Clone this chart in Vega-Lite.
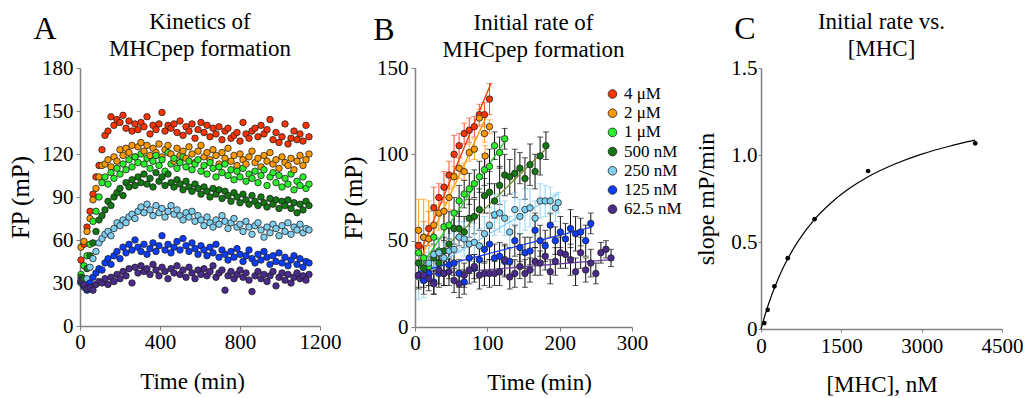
{
"$schema": "https://vega.github.io/schema/vega-lite/v6.json",
"padding": {"left": 8, "top": 11, "right": 0, "bottom": 0},
"spacing": 0,
"bounds": "full",
"datasets": {
"kin": [
{"t":5,"a":46,"b":55,"c":36,"d":34,"e":30,"f":31,"g":32},
{"t":20,"a":57,"b":59,"c":42,"d":33,"e":27,"f":28,"g":29},
{"t":35,"a":69,"b":66,"c":49,"d":40,"e":33,"f":25,"g":26},
{"t":50,"a":80,"b":75,"c":57,"d":49,"e":41,"f":30,"g":27},
{"t":65,"a":92,"b":88,"c":73,"d":58,"e":47,"f":34,"g":25},
{"t":80,"a":104,"b":96,"c":80,"d":66,"e":52,"f":37,"g":29},
{"t":95,"a":112,"b":104,"c":90,"d":74,"e":58,"f":40,"g":31},
{"t":110,"a":123,"b":112,"c":100,"d":77,"e":61,"f":39,"g":30},
{"t":125,"a":133,"b":113,"c":104,"d":81,"e":64,"f":44,"g":33},
{"t":140,"a":136,"b":116,"c":99,"d":87,"e":66,"f":47,"g":29},
{"t":155,"a":146,"b":111,"c":107,"d":84,"e":63,"f":43,"g":34},
{"t":170,"a":140,"b":118,"c":103,"d":90,"e":68,"f":49,"g":31},
{"t":185,"a":144,"b":115,"c":110,"d":93,"e":72,"f":52,"g":36},
{"t":200,"a":142,"b":123,"c":106,"d":96,"e":70,"f":47,"g":33},
{"t":215,"a":147,"b":119,"c":113,"d":91,"e":74,"f":55,"g":38},
{"t":230,"a":138,"b":124,"c":109,"d":100,"e":72,"f":51,"g":35},
{"t":245,"a":143,"b":121,"c":116,"d":97,"e":76,"f":57,"g":40},
{"t":260,"a":136,"b":126,"c":111,"d":102,"e":78,"f":53,"g":30},
{"t":275,"a":141,"b":118,"c":118,"d":98,"e":75,"f":60,"g":41},
{"t":290,"a":137,"b":125,"c":114,"d":104,"e":80,"f":55,"g":37},
{"t":305,"a":142,"b":128,"c":120,"d":100,"e":83,"f":52,"g":42},
{"t":320,"a":139,"b":122,"c":113,"d":106,"e":79,"f":57,"g":38},
{"t":335,"a":146,"b":126,"c":117,"d":99,"e":85,"f":50,"g":40},
{"t":350,"a":134,"b":119,"c":110,"d":103,"e":81,"f":54,"g":36},
{"t":365,"a":140,"b":124,"c":115,"d":97,"e":77,"f":58,"g":43},
{"t":380,"a":137,"b":121,"c":119,"d":107,"e":84,"f":52,"g":39},
{"t":395,"a":141,"b":127,"c":112,"d":101,"e":79,"f":56,"g":35},
{"t":410,"a":149,"b":118,"c":116,"d":104,"e":82,"f":63,"g":41},
{"t":425,"a":136,"b":123,"c":108,"d":98,"e":76,"f":53,"g":38},
{"t":440,"a":140,"b":126,"c":121,"d":106,"e":80,"f":57,"g":33},
{"t":455,"a":138,"b":120,"c":113,"d":100,"e":84,"f":51,"g":40},
{"t":470,"a":141,"b":115,"c":117,"d":97,"e":78,"f":55,"g":37},
{"t":485,"a":135,"b":124,"c":110,"d":102,"e":81,"f":59,"g":42},
{"t":500,"a":143,"b":119,"c":114,"d":99,"e":77,"f":53,"g":36},
{"t":515,"a":133,"b":122,"c":118,"d":95,"e":74,"f":61,"g":39},
{"t":530,"a":139,"b":117,"c":111,"d":101,"e":79,"f":56,"g":34},
{"t":545,"a":136,"b":125,"c":115,"d":97,"e":76,"f":52,"g":41},
{"t":560,"a":141,"b":120,"c":109,"d":94,"e":80,"f":58,"g":37},
{"t":575,"a":131,"b":114,"c":113,"d":99,"e":73,"f":54,"g":33},
{"t":590,"a":137,"b":122,"c":116,"d":96,"e":77,"f":50,"g":39},
{"t":605,"a":142,"b":126,"c":108,"d":92,"e":74,"f":56,"g":36},
{"t":620,"a":135,"b":118,"c":112,"d":97,"e":70,"f":53,"g":40},
{"t":635,"a":140,"b":121,"c":106,"d":94,"e":76,"f":49,"g":35},
{"t":650,"a":132,"b":116,"c":114,"d":90,"e":72,"f":55,"g":38},
{"t":665,"a":138,"b":123,"c":110,"d":96,"e":69,"f":51,"g":42},
{"t":680,"a":134,"b":119,"c":104,"d":92,"e":74,"f":57,"g":34},
{"t":695,"a":139,"b":113,"c":111,"d":95,"e":71,"f":48,"g":37},
{"t":710,"a":130,"b":121,"c":107,"d":89,"e":77,"f":53,"g":39},
{"t":725,"a":136,"b":117,"c":113,"d":94,"e":73,"f":50,"g":25},
{"t":740,"a":138,"b":124,"c":105,"d":91,"e":68,"f":46,"g":35},
{"t":755,"a":131,"b":115,"c":109,"d":87,"e":72,"f":52,"g":38},
{"t":770,"a":133,"b":119,"c":102,"d":93,"e":75,"f":48,"g":33},
{"t":785,"a":135,"b":112,"c":108,"d":90,"e":69,"f":54,"g":36},
{"t":800,"a":129,"b":120,"c":104,"d":86,"e":71,"f":50,"g":39},
{"t":815,"a":142,"b":116,"c":110,"d":92,"e":66,"f":45,"g":34},
{"t":830,"a":134,"b":113,"c":101,"d":88,"e":73,"f":49,"g":37},
{"t":845,"a":131,"b":118,"c":106,"d":85,"e":69,"f":53,"g":32},
{"t":860,"a":136,"b":122,"c":103,"d":91,"e":64,"f":47,"g":24},
{"t":875,"a":138,"b":114,"c":108,"d":87,"e":70,"f":44,"g":35},
{"t":890,"a":132,"b":117,"c":100,"d":84,"e":72,"f":50,"g":38},
{"t":905,"a":140,"b":111,"c":105,"d":90,"e":67,"f":46,"g":33},
{"t":920,"a":134,"b":119,"c":109,"d":86,"e":62,"f":52,"g":36},
{"t":935,"a":137,"b":115,"c":98,"d":83,"e":69,"f":48,"g":31},
{"t":950,"a":144,"b":121,"c":104,"d":89,"e":65,"f":43,"g":35},
{"t":965,"a":130,"b":113,"c":107,"d":85,"e":71,"f":49,"g":38},
{"t":980,"a":135,"b":116,"c":100,"d":88,"e":68,"f":45,"g":28},
{"t":995,"a":128,"b":110,"c":105,"d":82,"e":63,"f":51,"g":34},
{"t":1010,"a":132,"b":118,"c":97,"d":87,"e":70,"f":44,"g":37},
{"t":1025,"a":141,"b":114,"c":103,"d":84,"e":66,"f":48,"g":32},
{"t":1040,"a":127,"b":112,"c":99,"d":88,"e":72,"f":42,"g":36},
{"t":1055,"a":131,"b":117,"c":106,"d":82,"e":64,"f":46,"g":30},
{"t":1070,"a":136,"b":109,"c":95,"d":86,"e":69,"f":49,"g":34},
{"t":1085,"a":130,"b":115,"c":101,"d":79,"e":67,"f":43,"g":37},
{"t":1100,"a":134,"b":119,"c":98,"d":85,"e":71,"f":47,"g":33},
{"t":1115,"a":129,"b":112,"c":104,"d":81,"e":65,"f":41,"g":35},
{"t":1130,"a":140,"b":116,"c":96,"d":87,"e":68,"f":45,"g":32},
{"t":1145,"a":132,"b":120,"c":99,"d":84,"e":67,"f":44,"g":36}
],
"rate": [
{"s":"4 μM","t":5,"fp":47,"e":8},{"s":"4 μM","t":12,"fp":52,"e":9},{"s":"4 μM","t":19,"fp":57,"e":10},{"s":"4 μM","t":26,"fp":69,"e":12},{"s":"4 μM","t":33,"fp":75,"e":8},{"s":"4 μM","t":40,"fp":81,"e":9},{"s":"4 μM","t":47,"fp":88,"e":8},{"s":"4 μM","t":54,"fp":100,"e":11},{"s":"4 μM","t":61,"fp":105,"e":7},{"s":"4 μM","t":68,"fp":112,"e":6},{"s":"4 μM","t":75,"fp":114,"e":7},{"s":"4 μM","t":82,"fp":116,"e":6},{"s":"4 μM","t":89,"fp":123,"e":6},{"s":"4 μM","t":96,"fp":123,"e":7},{"s":"4 μM","t":103,"fp":132,"e":9},
{"s":"2 μM","t":5,"fp":56,"e":18},{"s":"2 μM","t":12,"fp":52,"e":22},{"s":"2 μM","t":19,"fp":51,"e":22},{"s":"2 μM","t":26,"fp":59,"e":12},{"s":"2 μM","t":33,"fp":66,"e":10},{"s":"2 μM","t":40,"fp":67,"e":8},{"s":"2 μM","t":47,"fp":75,"e":7},{"s":"2 μM","t":54,"fp":87,"e":6},{"s":"2 μM","t":61,"fp":92,"e":6},{"s":"2 μM","t":68,"fp":90,"e":5},{"s":"2 μM","t":75,"fp":101,"e":5},{"s":"2 μM","t":82,"fp":103,"e":6},{"s":"2 μM","t":89,"fp":121,"e":5},{"s":"2 μM","t":96,"fp":112,"e":5},{"s":"2 μM","t":97,"fp":99,"e":6},{"s":"2 μM","t":103,"fp":116,"e":4},
{"s":"1 μM","t":5,"fp":43,"e":6},{"s":"1 μM","t":12,"fp":40,"e":7},{"s":"1 μM","t":19,"fp":35,"e":6},{"s":"1 μM","t":26,"fp":52,"e":8},{"s":"1 μM","t":33,"fp":44,"e":7},{"s":"1 μM","t":40,"fp":58,"e":8},{"s":"1 μM","t":47,"fp":59,"e":8},{"s":"1 μM","t":54,"fp":66,"e":9},{"s":"1 μM","t":61,"fp":73,"e":9},{"s":"1 μM","t":68,"fp":77,"e":8},{"s":"1 μM","t":75,"fp":80,"e":9},{"s":"1 μM","t":82,"fp":83,"e":8},{"s":"1 μM","t":89,"fp":87,"e":9},{"s":"1 μM","t":96,"fp":91,"e":9},{"s":"1 μM","t":103,"fp":93,"e":10},{"s":"1 μM","t":110,"fp":105,"e":8},{"s":"1 μM","t":117,"fp":101,"e":9},{"s":"1 μM","t":124,"fp":109,"e":6},
{"s":"500 nM","t":5,"fp":37,"e":6},{"s":"500 nM","t":12,"fp":34,"e":6},{"s":"500 nM","t":19,"fp":31,"e":7},{"s":"500 nM","t":26,"fp":40,"e":8},{"s":"500 nM","t":33,"fp":37,"e":7},{"s":"500 nM","t":40,"fp":44,"e":8},{"s":"500 nM","t":47,"fp":48,"e":9},{"s":"500 nM","t":54,"fp":57,"e":9},{"s":"500 nM","t":61,"fp":57,"e":10},{"s":"500 nM","t":68,"fp":55,"e":9},{"s":"500 nM","t":75,"fp":63,"e":11},{"s":"500 nM","t":82,"fp":64,"e":10},{"s":"500 nM","t":89,"fp":68,"e":12},{"s":"500 nM","t":96,"fp":76,"e":10},{"s":"500 nM","t":103,"fp":78,"e":12},{"s":"500 nM","t":110,"fp":73,"e":10},{"s":"500 nM","t":117,"fp":82,"e":11},{"s":"500 nM","t":124,"fp":88,"e":12},{"s":"500 nM","t":131,"fp":87,"e":10},{"s":"500 nM","t":138,"fp":89,"e":14},{"s":"500 nM","t":145,"fp":92,"e":9},{"s":"500 nM","t":152,"fp":86,"e":12},{"s":"500 nM","t":159,"fp":94,"e":12},{"s":"500 nM","t":166,"fp":90,"e":10},{"s":"500 nM","t":173,"fp":99,"e":11},{"s":"500 nM","t":181,"fp":105,"e":8},
{"s":"250 nM","t":5,"fp":29,"e":13},{"s":"250 nM","t":12,"fp":27,"e":10},{"s":"250 nM","t":19,"fp":37,"e":10},{"s":"250 nM","t":26,"fp":42,"e":9},{"s":"250 nM","t":33,"fp":43,"e":9},{"s":"250 nM","t":40,"fp":40,"e":9},{"s":"250 nM","t":47,"fp":44,"e":10},{"s":"250 nM","t":54,"fp":45,"e":10},{"s":"250 nM","t":61,"fp":52,"e":9},{"s":"250 nM","t":68,"fp":51,"e":10},{"s":"250 nM","t":75,"fp":48,"e":10},{"s":"250 nM","t":82,"fp":49,"e":11},{"s":"250 nM","t":89,"fp":47,"e":10},{"s":"250 nM","t":96,"fp":54,"e":10},{"s":"250 nM","t":103,"fp":59,"e":10},{"s":"250 nM","t":110,"fp":65,"e":12},{"s":"250 nM","t":117,"fp":66,"e":11},{"s":"250 nM","t":124,"fp":63,"e":10},{"s":"250 nM","t":131,"fp":55,"e":9},{"s":"250 nM","t":138,"fp":68,"e":10},{"s":"250 nM","t":145,"fp":64,"e":10},{"s":"250 nM","t":152,"fp":68,"e":12},{"s":"250 nM","t":159,"fp":69,"e":11},{"s":"250 nM","t":166,"fp":63,"e":10},{"s":"250 nM","t":173,"fp":73,"e":10},{"s":"250 nM","t":180,"fp":73,"e":9},{"s":"250 nM","t":187,"fp":73,"e":8},{"s":"250 nM","t":194,"fp":69,"e":8},{"s":"250 nM","t":198,"fp":72,"e":6},
{"s":"125 nM","t":5,"fp":30,"e":8},{"s":"125 nM","t":12,"fp":27,"e":8},{"s":"125 nM","t":19,"fp":31,"e":7},{"s":"125 nM","t":26,"fp":26,"e":7},{"s":"125 nM","t":33,"fp":31,"e":8},{"s":"125 nM","t":40,"fp":31,"e":7},{"s":"125 nM","t":47,"fp":36,"e":8},{"s":"125 nM","t":54,"fp":37,"e":7},{"s":"125 nM","t":61,"fp":31,"e":8},{"s":"125 nM","t":68,"fp":26,"e":7},{"s":"125 nM","t":75,"fp":40,"e":9},{"s":"125 nM","t":82,"fp":34,"e":8},{"s":"125 nM","t":89,"fp":39,"e":9},{"s":"125 nM","t":96,"fp":45,"e":8},{"s":"125 nM","t":103,"fp":48,"e":9},{"s":"125 nM","t":110,"fp":40,"e":8},{"s":"125 nM","t":117,"fp":41,"e":8},{"s":"125 nM","t":124,"fp":38,"e":9},{"s":"125 nM","t":131,"fp":38,"e":8},{"s":"125 nM","t":138,"fp":50,"e":9},{"s":"125 nM","t":145,"fp":46,"e":8},{"s":"125 nM","t":152,"fp":43,"e":9},{"s":"125 nM","t":159,"fp":44,"e":8},{"s":"125 nM","t":166,"fp":56,"e":10},{"s":"125 nM","t":173,"fp":50,"e":9},{"s":"125 nM","t":180,"fp":47,"e":9},{"s":"125 nM","t":187,"fp":59,"e":7},{"s":"125 nM","t":194,"fp":50,"e":8},{"s":"125 nM","t":201,"fp":55,"e":9},{"s":"125 nM","t":208,"fp":51,"e":9},{"s":"125 nM","t":215,"fp":57,"e":11},{"s":"125 nM","t":222,"fp":54,"e":10},{"s":"125 nM","t":229,"fp":55,"e":8},{"s":"125 nM","t":236,"fp":50,"e":9},{"s":"125 nM","t":243,"fp":60,"e":6},
{"s":"62.5 nM","t":5,"fp":30,"e":7},{"s":"62.5 nM","t":12,"fp":30,"e":7},{"s":"62.5 nM","t":19,"fp":28,"e":7},{"s":"62.5 nM","t":26,"fp":25,"e":6},{"s":"62.5 nM","t":33,"fp":33,"e":8},{"s":"62.5 nM","t":40,"fp":31,"e":7},{"s":"62.5 nM","t":47,"fp":32,"e":8},{"s":"62.5 nM","t":54,"fp":27,"e":7},{"s":"62.5 nM","t":61,"fp":25,"e":8},{"s":"62.5 nM","t":68,"fp":30,"e":7},{"s":"62.5 nM","t":75,"fp":33,"e":8},{"s":"62.5 nM","t":82,"fp":35,"e":7},{"s":"62.5 nM","t":89,"fp":30,"e":8},{"s":"62.5 nM","t":96,"fp":31,"e":7},{"s":"62.5 nM","t":103,"fp":31,"e":8},{"s":"62.5 nM","t":110,"fp":31,"e":7},{"s":"62.5 nM","t":117,"fp":32,"e":8},{"s":"62.5 nM","t":124,"fp":39,"e":9},{"s":"62.5 nM","t":131,"fp":29,"e":7},{"s":"62.5 nM","t":138,"fp":31,"e":8},{"s":"62.5 nM","t":145,"fp":35,"e":7},{"s":"62.5 nM","t":152,"fp":31,"e":8},{"s":"62.5 nM","t":159,"fp":33,"e":7},{"s":"62.5 nM","t":166,"fp":38,"e":8},{"s":"62.5 nM","t":173,"fp":37,"e":7},{"s":"62.5 nM","t":180,"fp":41,"e":8},{"s":"62.5 nM","t":187,"fp":32,"e":7},{"s":"62.5 nM","t":194,"fp":38,"e":8},{"s":"62.5 nM","t":201,"fp":43,"e":9},{"s":"62.5 nM","t":208,"fp":42,"e":8},{"s":"62.5 nM","t":215,"fp":39,"e":9},{"s":"62.5 nM","t":222,"fp":32,"e":8},{"s":"62.5 nM","t":229,"fp":43,"e":9},{"s":"62.5 nM","t":236,"fp":33,"e":7},{"s":"62.5 nM","t":243,"fp":37,"e":8},{"s":"62.5 nM","t":250,"fp":31,"e":6},{"s":"62.5 nM","t":257,"fp":43,"e":6},{"s":"62.5 nM","t":264,"fp":45,"e":5},{"s":"62.5 nM","t":271,"fp":40,"e":5}
],
"fit": [
{"s":"4 μM","t":5,"fp":41},{"s":"4 μM","t":105,"fp":141},
{"s":"2 μM","t":5,"fp":37},{"s":"2 μM","t":100,"fp":123},
{"s":"1 μM","t":5,"fp":33},{"s":"1 μM","t":128,"fp":110},
{"s":"500 nM","t":10,"fp":33},{"s":"500 nM","t":183,"fp":104},
{"s":"250 nM","t":5,"fp":30},{"s":"250 nM","t":197,"fp":77},
{"s":"125 nM","t":5,"fp":32},{"s":"125 nM","t":245,"fp":58},
{"s":"62.5 nM","t":5,"fp":30},{"s":"62.5 nM","t":272,"fp":39}
],
"slope": [
{"c":62.5,"r":0.034},{"c":125,"r":0.11},{"c":250,"r":0.245},{"c":500,"r":0.407},{"c":1000,"r":0.631},{"c":2000,"r":0.908},{"c":4000,"r":1.067}
],
"curve": [
{"c":0,"r":0},{"c":50,"r":0.054},{"c":100,"r":0.105},{"c":200,"r":0.195},{"c":300,"r":0.273},{"c":400,"r":0.343},{"c":500,"r":0.404},{"c":700,"r":0.508},{"c":1000,"r":0.63},{"c":1300,"r":0.723},{"c":1600,"r":0.797},{"c":2000,"r":0.875},{"c":2500,"r":0.948},{"c":3000,"r":1.005},{"c":3500,"r":1.049},{"c":4000,"r":1.085}
]
},
"hconcat": [
{
"width": 240, "height": 258,
"title": {"text": ["Kinetics of", "MHCpep formation"]},
"layer": [
{"data": {"name": "kin"},
"transform": [{"fold": ["a","b","c","d","e","f","g"], "as": ["s","fp"]}],
"mark": {"type": "circle", "size": 42, "stroke": "#222", "strokeWidth": 0.8, "opacity": 1},
"encoding": {
"x": {"field": "t", "type": "quantitative", "scale": {"domain": [0,1200], "nice": false}, "axis": {"values": [0,400,800,1200], "format": "d", "title": "Time (min)", "titleX": 112, "labelPadding": 1, "titlePadding": 18}},
"y": {"field": "fp", "type": "quantitative", "scale": {"domain": [0,180], "nice": false}, "axis": {"values": [0,30,60,90,120,150,180], "title": "FP (mP)", "titleFontSize": 25, "labelPadding": 3, "titlePadding": 8}},
"color": {"field": "s", "type": "nominal", "scale": {"domain": ["a","b","c","d","e","f","g"], "range": ["#ff3300","#ff9900","#2bef2b","#127812","#80cff0","#0a3cff","#4a2a8c"]}, "legend": null}
}},
{"data": {"values": [{}]},
"mark": {"type": "text", "text": "A", "fontSize": 32, "font": "Liberation Serif", "align": "center", "baseline": "alphabetic", "color": "black"},
"encoding": {"x": {"datum": -175, "type": "quantitative"}, "y": {"datum": 200, "type": "quantitative"}}}
]
},
{
"width": 217, "height": 259,
"title": {"text": ["Initial rate of", "MHCpep formation"], "dx": 10},
"resolve": {"scale": {"color": "independent"}},
"layer": [
{"data": {"name": "rate"},
"mark": {"type": "errorbar", "ticks": {"size": 6}, "rule": {"strokeWidth": 1}},
"encoding": {
"x": {"field": "t", "type": "quantitative", "scale": {"domain": [0,300], "nice": false}, "axis": {"values": [0,100,200,300], "format": "d", "title": "Time (min)", "titleX": 124, "labelPadding": 1, "titlePadding": 18}},
"y": {"field": "fp", "type": "quantitative", "scale": {"domain": [0,150], "nice": false}, "axis": {"values": [0,50,100,150], "title": "FP (mP)", "titleFontSize": 25, "labelPadding": 3, "titlePadding": 10}},
"yError": {"field": "e"},
"color": {"field": "s", "type": "nominal", "scale": {"domain": ["4 μM","2 μM","1 μM","500 nM","250 nM","125 nM","62.5 nM"], "range": ["#ff4a2a","#ff9a1a","#111111","#111111","#8ad2f2","#111111","#111111"]}, "legend": null}
}},
{"data": {"name": "fit"},
"mark": {"type": "line", "strokeWidth": 1.3},
"encoding": {
"x": {"field": "t", "type": "quantitative"},
"y": {"field": "fp", "type": "quantitative"},
"detail": {"field": "s"},
"color": {"field": "s", "type": "nominal", "scale": {"domain": ["4 μM","2 μM","1 μM","500 nM","250 nM","125 nM","62.5 nM"], "range": ["#ff3300","#ff9900","#22cc22","#6b8e23","#87cefa","#1a3cff","#6a3fa0"]}, "legend": null}
}},
{"data": {"name": "rate"},
"mark": {"type": "circle", "size": 42, "stroke": "#222", "strokeWidth": 0.8, "opacity": 1},
"encoding": {
"x": {"field": "t", "type": "quantitative"},
"y": {"field": "fp", "type": "quantitative"},
"color": {"field": "s", "type": "nominal", "scale": {"domain": ["4 μM","2 μM","1 μM","500 nM","250 nM","125 nM","62.5 nM"], "range": ["#ff3300","#ff9900","#2bef2b","#127812","#80cff0","#0a3cff","#4a2a8c"]},
"legend": {"orient": "none", "legendX": 177, "legendY": 5.5, "title": null, "labelFont": "Liberation Serif", "labelFontSize": 17, "labelColor": "black", "symbolType": "circle", "symbolSize": 75, "symbolStrokeColor": "#222", "symbolStrokeWidth": 0.8, "rowPadding": 1.2, "labelOffset": 3, "padding": 12, "symbolOpacity": 1}}
}},
{"data": {"values": [{}]},
"mark": {"type": "text", "text": "B", "fontSize": 32, "font": "Liberation Serif", "align": "center", "baseline": "alphabetic", "color": "black"},
"encoding": {"x": {"datum": -43, "type": "quantitative"}, "y": {"datum": 166.5, "type": "quantitative"}}}
]
},
{
"width": 241, "height": 261,
"title": {"text": ["Initial rate vs.", "[MHC]"]},
"layer": [
{"data": {"name": "curve"},
"mark": {"type": "line", "color": "black", "strokeWidth": 1.2, "interpolate": "monotone"},
"encoding": {
"x": {"field": "c", "type": "quantitative", "scale": {"domain": [0,4500], "nice": false}, "axis": {"values": [0,1500,3000,4500], "format": "d", "title": "[MHC], nM", "labelPadding": 3, "tickSize": 3, "titlePadding": 17}},
"y": {"field": "r", "type": "quantitative", "scale": {"domain": [0,1.5], "nice": false}, "axis": {"values": [0,0.5,1,1.5], "labelExpr": "datum.value == 0 ? '0' : format(datum.value, '.1f')", "title": "slope mP/min", "titleFontSize": 24, "tickSize": 3, "labelPadding": 1, "titlePadding": 12}}
}},
{"data": {"name": "slope"},
"mark": {"type": "circle", "size": 22, "color": "black", "opacity": 1},
"encoding": {
"x": {"field": "c", "type": "quantitative"},
"y": {"field": "r", "type": "quantitative"}
}},
{"data": {"values": [{}]},
"mark": {"type": "text", "text": "C", "fontSize": 32, "font": "Liberation Serif", "align": "center", "baseline": "alphabetic", "color": "black"},
"encoding": {"x": {"datum": -299, "type": "quantitative"}, "y": {"datum": 1.665, "type": "quantitative"}}}
]
}
],
"resolve": {"scale": {"x": "independent", "y": "independent", "color": "independent"}, "legend": {"color": "independent"}},
"config": {
"font": "Liberation Serif",
"view": {"stroke": null},
"axis": {"grid": false, "domainColor": "#808080", "domainWidth": 1.5, "tickColor": "#808080", "tickSize": 4, "labelPadding": 3, "labelFont": "Liberation Serif", "labelFontSize": 21, "labelColor": "black", "labelFlush": false, "labelOverlap": false, "titleFont": "Liberation Serif", "titleFontSize": 23, "titleFontWeight": "normal", "titleColor": "black"},
"title": {"font": "Liberation Serif", "fontSize": 23, "fontWeight": "normal", "lineHeight": 27, "offset": -48, "color": "black", "anchor": "middle", "frame": "group"}
}
}
